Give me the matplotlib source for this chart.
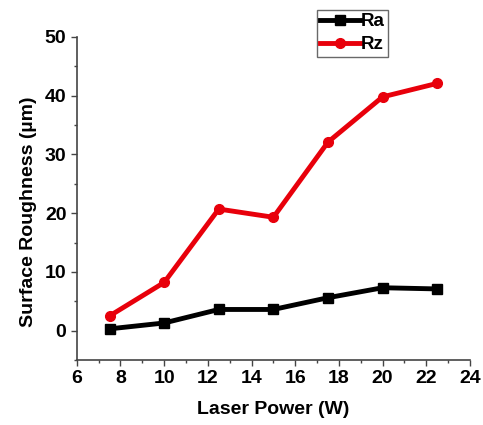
import matplotlib.pyplot as plt
from matplotlib.ticker import MultipleLocator

power = [7.5, 10, 12.5, 15, 17.5, 20, 22.5]
ra = [0.3, 1.3, 3.6, 3.6, 5.6, 7.3, 7.1]
rz = [2.5, 8.2, 20.7, 19.3, 32.1, 39.8, 42.1]

plt.rcParams['font.family'] = ['Liberation Sans', 'DejaVu Sans']
plt.rcParams['font.weight'] = 'bold'

fig = plt.figure(figsize=(4.83, 4.25), dpi=100)
ax = fig.add_axes([0.159, 0.153, 0.814, 0.760])

ax.plot(power, ra, color='black', lw=3.5, marker='s', ms=7, label='Ra')
ax.plot(power, rz, color='#e8000b', lw=3.5, marker='o', ms=7, label='Rz')

ax.set_xlim(6, 24)
ax.set_ylim(-5, 50)
ax.xaxis.set_major_locator(MultipleLocator(2))
ax.xaxis.set_minor_locator(MultipleLocator(1))
ax.yaxis.set_major_locator(MultipleLocator(10))
ax.yaxis.set_minor_locator(MultipleLocator(5))

for s in ['top', 'right']:
    ax.spines[s].set_visible(False)
for s in ['left', 'bottom']:
    ax.spines[s].set_color('#444444')
    ax.spines[s].set_linewidth(1.2)

ax.tick_params(which='major', direction='out', length=4, width=1, color='#444444', labelsize=14)
ax.tick_params(which='minor', direction='out', length=2, width=1, color='#444444')

ax.set_xlabel('Laser Power (W)', fontsize=14, fontweight='bold', labelpad=10)
ax.set_ylabel('Surface Roughness (µm)', fontsize=14, fontweight='bold')
ax.yaxis.set_label_coords(-0.10, 0.46)

leg = ax.legend(loc='upper left', bbox_to_anchor=(0.61, 1.085), fontsize=13.5,
                frameon=True, fancybox=False, handlelength=2.1, handletextpad=0.05,
                borderpad=0.2, labelspacing=0.3, borderaxespad=0)
leg.get_frame().set_edgecolor('#444444')
leg.get_frame().set_linewidth(1)

plt.savefig('out.png', dpi=100)
